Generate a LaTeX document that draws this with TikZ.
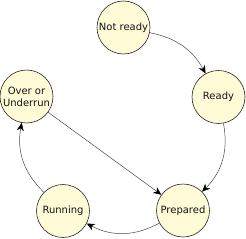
\documentclass[tikz,border=0pt]{standalone}
\usepackage{fontspec}
\setmainfont{DejaVu Sans}
\usetikzlibrary{arrows.meta}

\begin{document}
\begin{tikzpicture}[x=1pt,y=1pt,yscale=-1,xscale=1,
  state/.style={circle,draw={rgb, 255:red, 40; green, 40; blue, 40 },line width=0.6pt,
    fill={rgb, 255:red, 255; green, 251; blue, 215 },minimum size=53pt,inner sep=0pt,
    align=center,font=\fontsize{10}{12}\selectfont,text={rgb, 255:red, 20; green, 20; blue, 20 }},
  trans/.style={draw={rgb, 255:red, 70; green, 70; blue, 70 },line width=0.5pt,
    -{Stealth[length=8pt,width=7pt,color=black]}}]
\useasboundingbox (0,0) rectangle (246,238);

%Shape: Circle
\node [state] (notready) at (123.5,27.5) {Not ready};
%Shape: Circle
\node [state] (ready) at (218.5,97) {Ready};
%Shape: Circle
\node [state] (prepared) at (183,210.5) {Prepared};
%Shape: Circle
\node [state] (running) at (63,211) {Running};
%Shape: Circle
\node [state] (overrun) at (26.5,96.5) {Over or\\Underrun};

%Curve Lines (y is flipped, so bend right bulges outward)
\draw [trans] (notready) to [bend right=25] (ready);
%Curve Lines
\draw [trans] (ready) to [bend right=28] (prepared);
%Curve Lines
\draw [trans] (prepared) to [bend right=28] (running);
%Curve Lines
\draw [trans] (running) to [bend right=28] (overrun);
%Straight Lines
\draw [trans] (overrun) -- (prepared);

\end{tikzpicture}
\end{document}
